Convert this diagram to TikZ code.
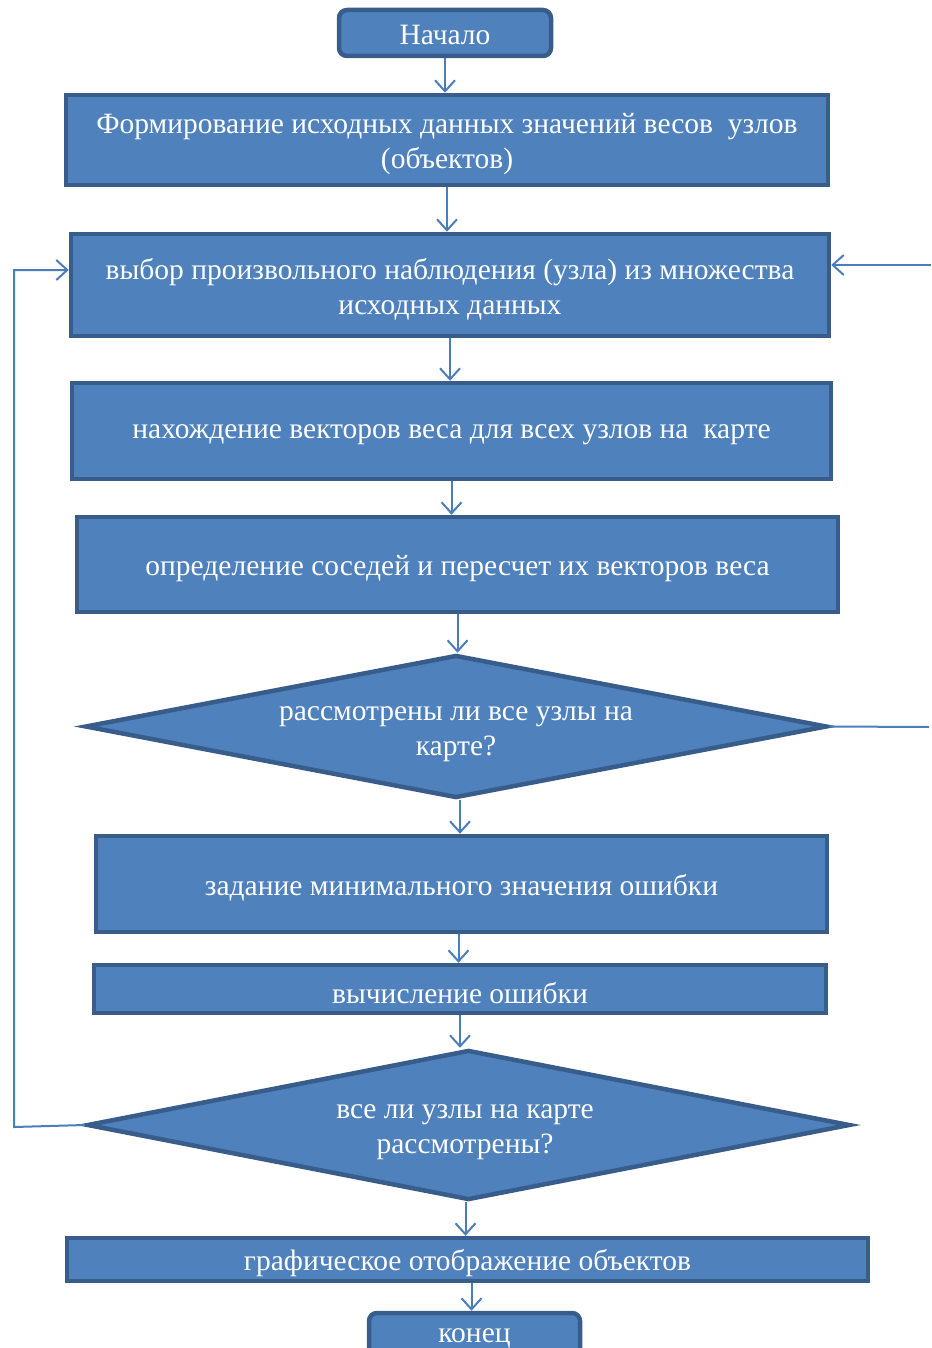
\documentclass[tikz,border=0pt]{standalone}
\usepackage{fontspec}
\setmainfont{Liberation Serif}
\usetikzlibrary{arrows.meta,shapes.geometric}
\definecolor{fillb}{HTML}{4F81BD}
\definecolor{edgeb}{HTML}{385D8A}
\definecolor{lineb}{HTML}{4A7EBB}
\begin{document}
\begin{tikzpicture}[x=1pt,y=-1pt,
  lbl/.style={text=white, align=center, font=\fontsize{29.5}{35}\selectfont, inner sep=0pt},
  box/.style={draw=edgeb, line width=4.5pt, fill=fillb, inner sep=0pt},
  term/.style={box, rounded corners=8pt},
  dia/.style={draw=edgeb, line width=4.5pt, fill=fillb, diamond, inner sep=0pt},
  txt/.style={label={[lbl,yshift=-4pt]center:{#1}}},
  arr/.style={draw=lineb, line width=2pt, -{Straight Barb[length=11pt,width=20pt,line width=2pt]}},
  ln/.style={draw=lineb, line width=2pt}]
\useasboundingbox (0,0) rectangle (931,1348);
\clip (0,0) rectangle (931,1348);
\node[term, minimum width=212, minimum height=46, label={[lbl,yshift=-2pt]center:Начало}] (start) at (445,33) {};
\node[box, minimum width=762, minimum height=90, txt={Формирование исходных данных значений весов\ \ узлов\\(объектов)}] (b1) at (447,140) {};
\node[box, minimum width=758, minimum height=102, txt={выбор произвольного наблюдения (узла) из множества\\исходных данных}] (b2) at (450,285) {};
\node[box, minimum width=759, minimum height=96, txt={нахождение векторов веса для всех узлов на\ \ карте}] (b3) at (451.5,431) {};
\node[box, minimum width=761, minimum height=95, txt={определение соседей и пересчет их векторов веса}] (b4) at (457.5,564.5) {};
\node[dia, minimum width=742, minimum height=143] (d1) at (456,726.5) {};
\node[lbl] (t1) at (456,734) {рассмотрены ли все узлы на\\карте?};
\node[box, minimum width=731, minimum height=96, txt={задание минимального значения ошибки}] (b5) at (461.5,884) {};
\node[box, minimum width=732, minimum height=48, txt={вычисление ошибки}] (b6) at (460,989) {};
\node[dia, minimum width=763, minimum height=150] (d2) at (468.5,1125) {};
\node[lbl] (t2) at (465,1132) {все ли узлы на карте\\рассмотрены?};
\node[box, minimum width=801, minimum height=43, txt={графическое отображение объектов}] (b7) at (467.5,1259.5) {};
\node[term, minimum width=211, minimum height=46, label={[lbl,yshift=-2pt]center:конец}] (end) at (474.5,1336) {};
\draw[arr] (start.south) -- (start.south |- b1.north);
\draw[arr] (b1.south) -- (b1.south |- b2.north);
\draw[arr] (b2.south) -- (b2.south |- b3.north);
\draw[arr] (b3.south) -- (b3.south |- b4.north);
\draw[arr] (b4.south) -- (b4.south |- d1.north);
\draw[arr] ([xshift=4pt]d1.south) -- ([xshift=4pt]d1.south |- b5.north);
\draw[arr] ([xshift=-3pt]b5.south) -- ([xshift=-3pt]b5.south |- b6.north);
\draw[arr] (b6.south) -- (b6.south |- d2.north);
\draw[arr] ([xshift=-3pt]d2.south) -- ([xshift=-3pt]d2.south |- b7.north);
\draw[arr] ([xshift=4pt]b7.south) -- ([xshift=4pt]b7.south |- end.north);
\coordinate (loopL) at (14,1127);
\draw[arr] (d2.west) -- (loopL) |- ([yshift=15pt]b2.west);
\coordinate (r1) at (929,727);
\draw[ln] (d1.east) -- (r1);
\coordinate (r2) at (931,265);
\draw[arr] (r2) -- ([yshift=20pt]b2.east);
\end{tikzpicture}
\end{document}
